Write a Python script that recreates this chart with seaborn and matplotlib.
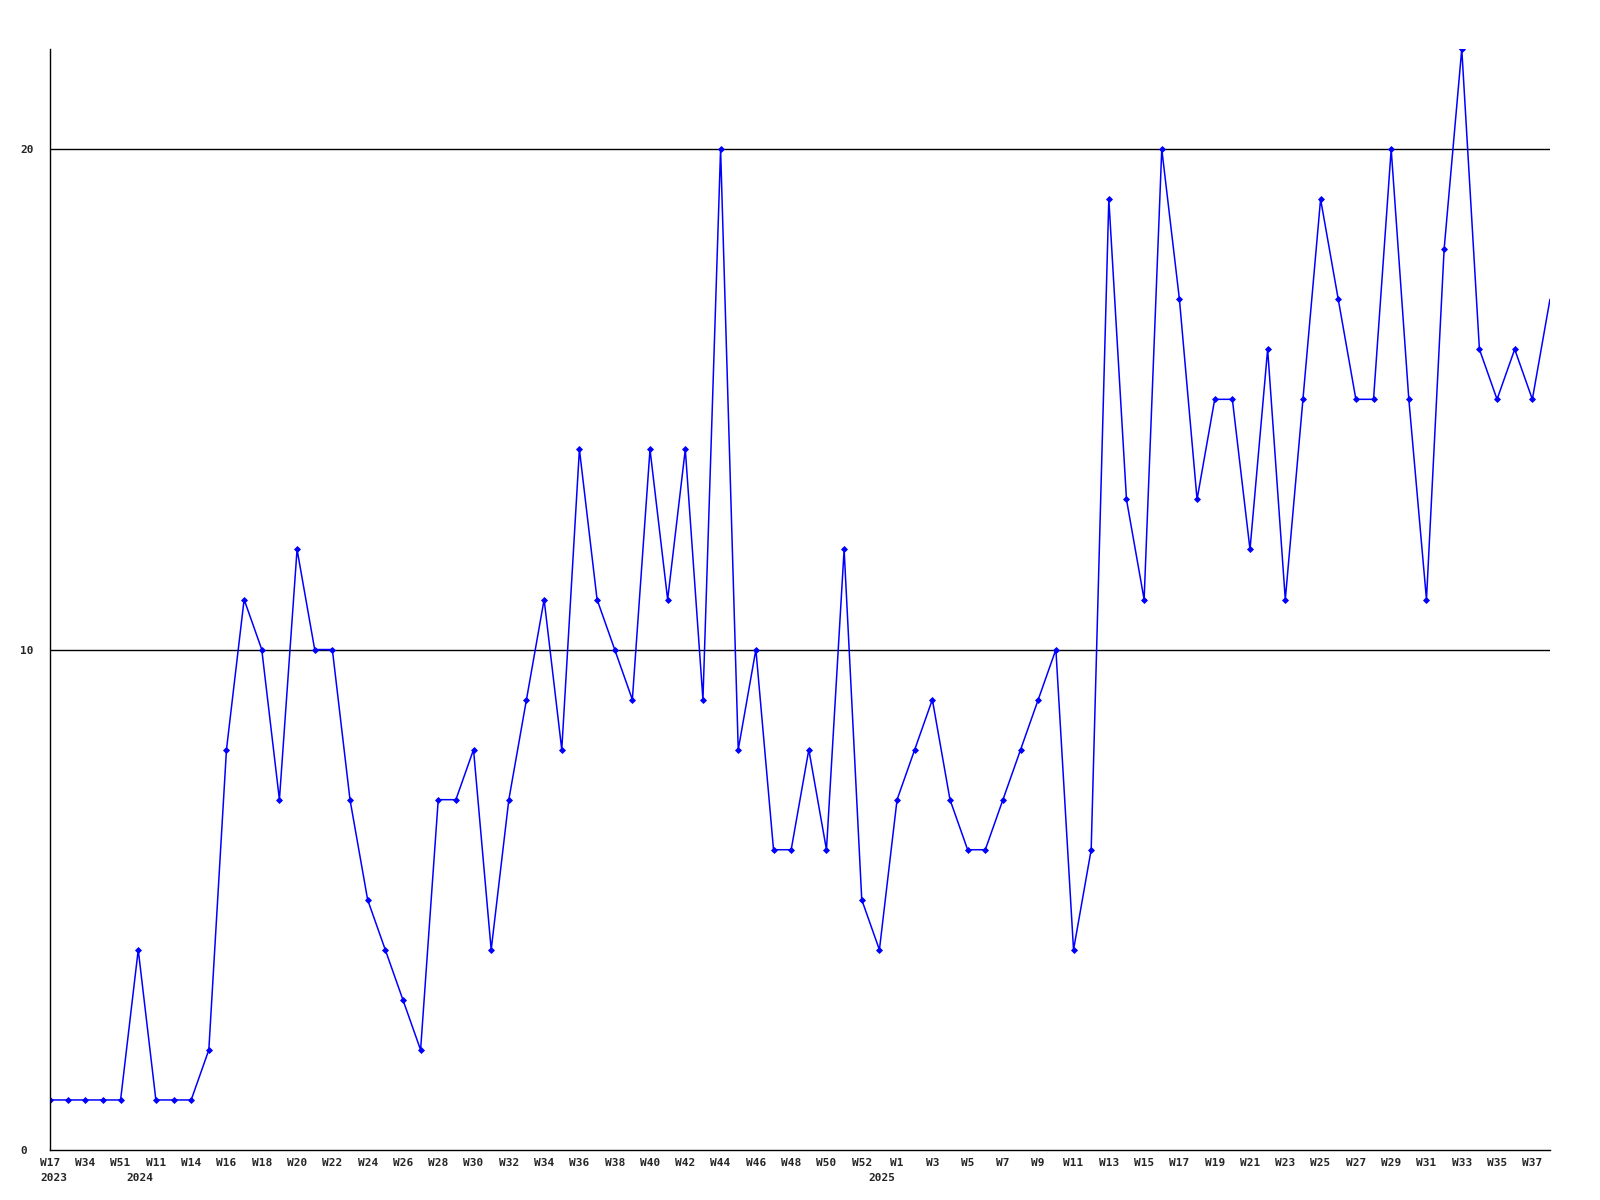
import matplotlib
matplotlib.use("Agg")
import matplotlib.pyplot as plt
import seaborn as sns
import numpy as np
import pandas as pd

# weekly counts, one value per point
counts = [1, 1, 1, 1, 1, 4, 1, 1, 1, 2,
          8, 11, 10, 7, 12, 10, 10, 7, 5, 4,
          3, 2, 7, 7, 8, 4, 7, 9, 11, 8,
          14, 11, 10, 9, 14, 11, 14, 9, 20, 8,
          10, 6, 6, 8, 6, 12, 5, 4, 7, 8,
          9, 7, 6, 6, 7, 8, 9, 10, 4, 6,
          19, 13, 11, 20, 17, 13, 15, 15, 12, 16,
          11, 15, 19, 17, 15, 15, 20, 15, 11, 18,
          22, 16, 15, 16, 15, 17]

# labels shown on every second point
week_labels = ['W17', 'W34', 'W51', 'W11', 'W14', 'W16', 'W18', 'W20', 'W22', 'W24',
               'W26', 'W28', 'W30', 'W32', 'W34', 'W36', 'W38', 'W40', 'W42', 'W44',
               'W46', 'W48', 'W50', 'W52', 'W1', 'W3', 'W5', 'W7', 'W9', 'W11',
               'W13', 'W15', 'W17', 'W19', 'W21', 'W23', 'W25', 'W27', 'W29', 'W31',
               'W33', 'W35', 'W37']

years = ['2023', '2024', '2025']
year_ticks = [0, 3, 24]  # index into week_labels where the year starts

df = pd.DataFrame({'idx': np.arange(len(counts)), 'count': counts})

sns.set_style("white")
plt.rcParams['font.family'] = ['DejaVu Sans Mono']

fig = plt.figure(figsize=(16, 12), dpi=100)
ax = fig.add_axes([50 / 1600, 50 / 1200, 1500 / 1600, 1101 / 1200])

sns.lineplot(data=df, x='idx', y='count', ax=ax, color='#0000ff', linewidth=1.1,
             marker='D', markersize=3.0, markeredgewidth=0.6, markeredgecolor='#0000ff',
             markevery=list(range(len(counts) - 1)))

ax.set_xlim(0, len(counts) - 1)
ax.set_ylim(0, 22)

for y in [10, 20]:
    ax.axhline(y, color='black', linewidth=1, zorder=0)

ax.set_yticks([0, 10, 20])
ax.set_yticklabels(['0', '10', '20'], fontsize=8, fontweight='bold')
ax.tick_params(axis='y', length=0, pad=21.6)
plt.setp(ax.get_yticklabels(), ha='left')

tick_pos = np.arange(0, len(counts), 2)[:len(week_labels)]
ax.set_xticks(tick_pos)
ax.set_xticklabels(week_labels, fontsize=8, fontweight='bold')
ax.tick_params(axis='x', length=0, pad=6)

year_shift = [0.2, -0.9, -0.85]
for yr, t, s in zip(years, year_ticks, year_shift):
    ax.text(tick_pos[t] + s, -0.45, yr, ha='center', va='top', fontsize=8,
            fontweight='bold', transform=ax.transData, clip_on=False)

ax.set_xlabel('')
ax.set_ylabel('')
for side in ['top', 'right']:
    ax.spines[side].set_visible(False)
for side in ['left', 'bottom']:
    ax.spines[side].set_color('black')
    ax.spines[side].set_linewidth(1)

fig.savefig('out.png', dpi=100, facecolor='white')
